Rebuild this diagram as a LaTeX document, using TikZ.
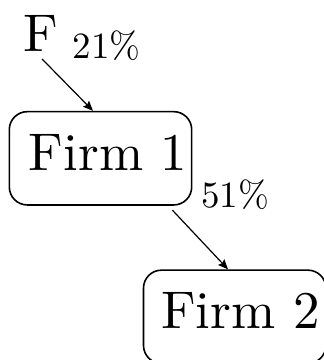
\documentclass[tikz,border=0pt]{standalone}
\usetikzlibrary{arrows.meta}
\newcommand{\bigword}[1]{\scalebox{2.65}{#1}}
\newcommand{\smallword}[1]{\scalebox{1.85}{#1}}
\begin{document}
\begin{tikzpicture}[x=0.5pt,y=-0.5pt,
  tenpt/.style={font=\fontsize{10}{12}\selectfont},
  pct/.style={tenpt, inner sep=0pt, anchor=base west},
  firmbox/.style={tenpt, draw, line width=0.8pt, rounded corners=9pt,
    minimum width=91.2pt, minimum height=46.65pt, inner sep=0pt},
  link/.style={-{Stealth[length=5pt,width=4.2pt,inset=0.8pt]}, line width=0.6pt}]
  \useasboundingbox (0,0) rectangle (323,360);

  % owner and ownership shares
  \node[tenpt, inner sep=0pt, anchor=base west] (F) at (23.3,51.5) {\bigword{F}};
  \node[pct] (p21) at (72.2,58.2) {\smallword{21\%}};
  \node[pct] (p51) at (200.7,207.5) {\smallword{51\%}};

  % firms
  \node[firmbox] (firm1) at (100.5,158.3)
    {\hspace*{7.7pt}\bigword{Firm 1}\rule[-6.1pt]{0pt}{6.1pt}};
  \node[firmbox] (firm2) at (234.7,316.8)
    {\hspace*{5.8pt}\bigword{Firm 2}\rule[-6.1pt]{0pt}{6.1pt}};

  % ownership links
  \draw[link, shorten <=4.95pt] ([xshift=-2.95pt]F.south) -- (firm1.99);
  \draw[link, shorten <=3pt] (firm1.-35.9) -- (firm2.98);
\end{tikzpicture}
\end{document}
